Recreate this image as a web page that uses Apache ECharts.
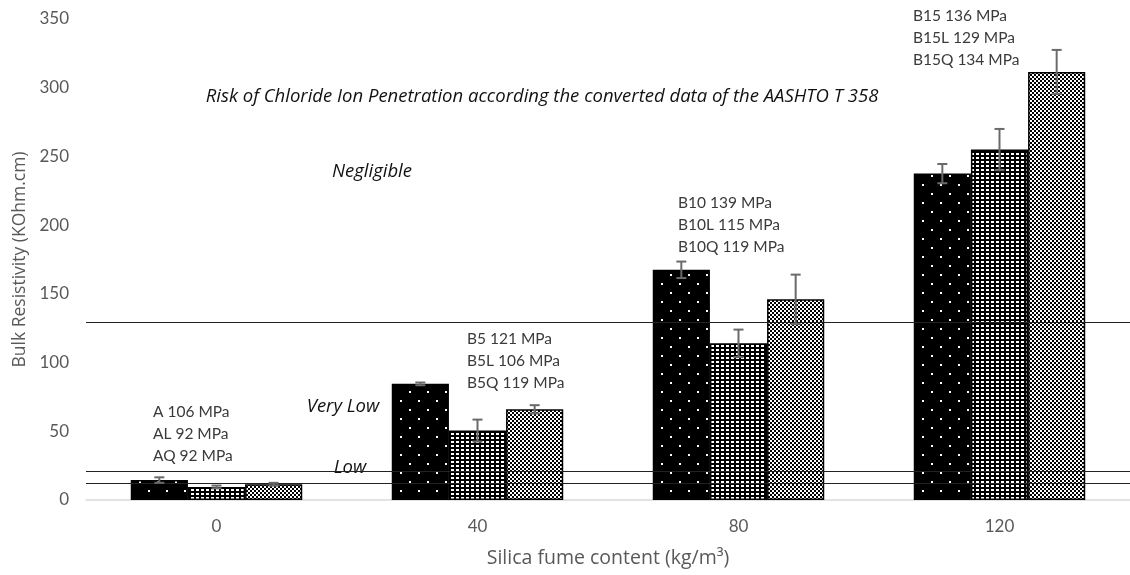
<!DOCTYPE html>
<html>
<head>
<meta charset="utf-8">
<script src="https://cdn.jsdelivr.net/npm/echarts@6/dist/echarts.min.js"></script>
<style>
html,body{margin:0;padding:0;background:#fff;}
#c{width:1130px;height:575px;}
</style>
</head>
<body>
<div id="c"></div>
<script>
var categories = ['0', '40', '80', '120'];
var seriesNames = ['A', 'L', 'Q'];
var valuesA = [14.5, 84.5, 167.5, 237.5];
var valuesL = [9.5, 50.5, 114, 255];
var valuesQ = [11.5, 66, 146, 311.5];
var errA = [2, 1, 6, 7];
var errL = [1, 8, 10, 15];
var errQ = [1, 3, 18, 16];
var yTicks = [0, 50, 100, 150, 200, 250, 300, 350];
var thresholds = [129, 20.6, 12.2];
var strengthLabels = [
  ['A 106 MPa', 'AL 92 MPa', 'AQ 92 MPa'],
  ['B5 121 MPa', 'B5L 106 MPa', 'B5Q 119 MPa'],
  ['B10 139 MPa', 'B10L 115 MPa', 'B10Q 119 MPa'],
  ['B15 136 MPa', 'B15L 129 MPa', 'B15Q 134 MPa']
];
var riskTitle = 'Risk of Chloride Ion Penetration according the converted data of the AASHTO T 358';
var riskZones = ['Negligible', 'Very Low', 'Low'];

function makePattern(w, h, bg, fg, rects) {
  var c = document.createElement('canvas');
  c.width = w; c.height = h;
  var g = c.getContext('2d');
  g.fillStyle = bg; g.fillRect(0, 0, w, h);
  g.fillStyle = fg;
  rects.forEach(function (r) { g.fillRect(r[0], r[1], r[2], r[3]); });
  return { image: c, repeat: 'repeat' };
}
var patA = makePattern(18, 18, '#000', '#fff', [[4, 4, 2, 2], [13, 13, 2, 2]]);
var patL = makePattern(5, 4, '#000', '#fff', [[1, 1, 3, 2]]);
var patQ = makePattern(4, 4, '#fff', '#000', [[0, 0, 2, 2], [2, 2, 2, 2]]);
var patterns = [patA, patL, patQ];
var values = [valuesA, valuesL, valuesQ];
var errs = [errA, errL, errQ];

var FONT = 'Lato, "Open Sans", sans-serif';
var IFONT = '"Open Sans", Lato, sans-serif';
var GAP = 0.343;

var series = [];
values.forEach(function (vals, k) {
  series.push({
    name: seriesNames[k],
    type: 'bar',
    data: vals,
    barGap: '0%',
    barCategoryGap: (GAP * 100) + '%',
    itemStyle: { color: patterns[k], borderColor: '#000', borderWidth: 1.5 },
    z: 2,
    markLine: k === 0 ? {
      silent: true,
      symbol: 'none',
      label: { show: false },
      lineStyle: { color: '#222', width: 1.2, type: 'solid' },
      data: thresholds.map(function (t) { return { yAxis: t }; })
    } : undefined
  });
});
values.forEach(function (vals, k) {
  series.push({
    type: 'custom',
    z: 5,
    data: vals.map(function (v, i) { return [i, v, errs[k][i]]; }),
    renderItem: function (params, api) {
      var i = api.value(0), v = api.value(1), e = api.value(2);
      var band = api.size([1, 0])[0];
      var bw = band * (1 - GAP) / 3;
      var top = api.coord([i, v + e]);
      var bot = api.coord([i, v - e]);
      var x = top[0] + (k - 1) * bw;
      var cap = 5;
      var st = { stroke: '#6a6a6a', lineWidth: 2 };
      return {
        type: 'group',
        children: [
          { type: 'line', shape: { x1: x, y1: top[1], x2: x, y2: bot[1] }, style: st },
          { type: 'line', shape: { x1: x - cap, y1: top[1], x2: x + cap, y2: top[1] }, style: st },
          { type: 'line', shape: { x1: x - cap, y1: bot[1], x2: x + cap, y2: bot[1] }, style: st }
        ]
      };
    }
  });
});

var labelPos = [[153, 412], [467, 339], [678, 203], [913, 16]];
var lineOffsets = [0, 21.5, 44];
var graphics = [];
strengthLabels.forEach(function (grp, g) {
  grp.forEach(function (txt, j) {
    graphics.push({
      type: 'text', left: labelPos[g][0], top: labelPos[g][1] + lineOffsets[j] - 8,
      style: { text: txt, font: '15.5px ' + FONT, fill: '#3a3a3a' }
    });
  });
});
var IF = 'italic 18.5px ' + IFONT;
graphics.push({ type: 'text', x: 542, y: 97, style: { text: riskTitle, font: IF, fill: '#111', align: 'center', verticalAlign: 'middle' } });
graphics.push({ type: 'text', x: 372, y: 172, style: { text: riskZones[0], font: IF, fill: '#111', align: 'center', verticalAlign: 'middle' } });
graphics.push({ type: 'text', x: 343, y: 407, style: { text: riskZones[1], font: IF, fill: '#111', align: 'center', verticalAlign: 'middle' } });
graphics.push({ type: 'text', x: 350, y: 468, style: { text: riskZones[2], font: IF, fill: '#111', align: 'center', verticalAlign: 'middle' } });

var chart = echarts.init(document.getElementById('c'), null, { renderer: 'canvas' });
chart.setOption({
  backgroundColor: '#fff',
  animation: false,
  grid: { left: 86, top: 19, width: 1051, height: 481, containLabel: false },
  xAxis: {
    type: 'category',
    data: categories,
    axisLine: { lineStyle: { color: '#d9d9d9', width: 1.5 } },
    axisTick: { show: false },
    axisLabel: { color: '#595959', fontSize: 17, fontFamily: FONT, margin: 18 },
    name: 'Silica fume content (kg/m³)',
    nameLocation: 'middle',
    nameGap: 48,
    nameTextStyle: { color: '#595959', fontSize: 19.5, fontFamily: IFONT }
  },
  yAxis: {
    type: 'value',
    min: 0, max: 350, interval: 50,
    splitLine: { show: false },
    axisLine: { show: false },
    axisTick: { show: false },
    axisLabel: { color: '#595959', fontSize: 17, fontFamily: FONT, margin: 17,
      formatter: function (v) { return yTicks.indexOf(v) >= 0 ? String(v) : ''; } },
    name: 'Bulk Resistivity (KOhm.cm)',
    nameLocation: 'middle',
    nameGap: 56,
    nameTextStyle: { color: '#595959', fontSize: 17.5, fontFamily: IFONT }
  },
  series: series,
  graphic: graphics
});
</script>
</body>
</html>
